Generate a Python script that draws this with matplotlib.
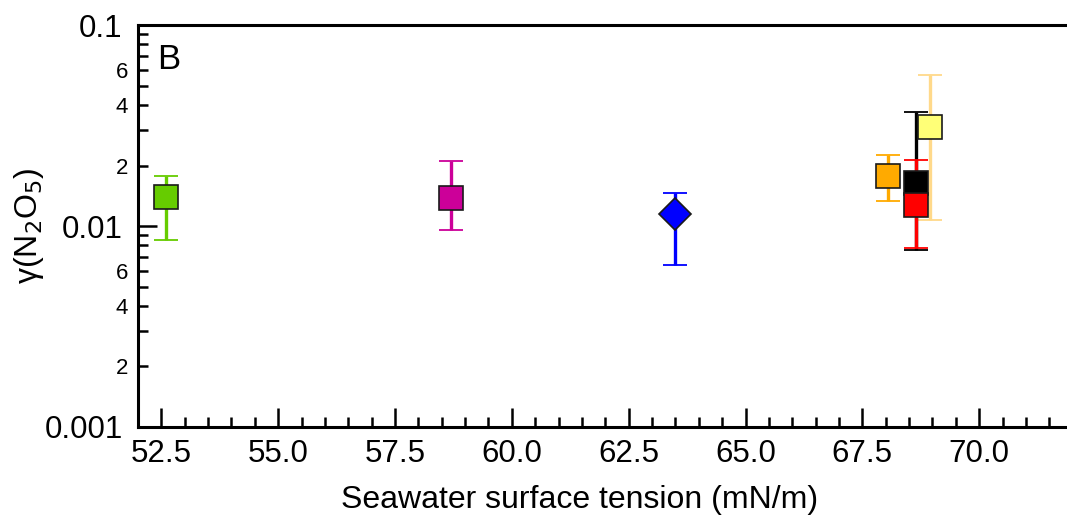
import matplotlib.pyplot as plt
from matplotlib.ticker import LogLocator, FuncFormatter, MultipleLocator

plt.rcParams['font.family'] = ['Liberation Sans', 'DejaVu Sans']

# data
tension = [52.6, 58.7, 63.5, 68.05, 68.95, 68.65, 68.65]
gamma = [0.0139, 0.0138, 0.0115, 0.0177, 0.0311, 0.0164, 0.0127]
err_hi = [0.0177, 0.0211, 0.0146, 0.0226, 0.0564, 0.0369, 0.0213]
err_lo = [0.0085, 0.0096, 0.0064, 0.0133, 0.0107, 0.0076, 0.0078]
colores = ['#66CC00', '#CC0099', '#0000FF', '#FFAA00', '#FFFF77', '#000000', '#FF0000']
colores_barra = ['#66CC00', '#CC0099', '#0000FF', '#FFAA00', '#FFD98A', '#000000', '#FF0000']
marcadores = ['s', 's', 'D', 's', 's', 's', 's']

fig = plt.figure(figsize=(10.67, 5.18), dpi=100)
ax = fig.add_axes([0.1293, 0.1757, 0.876, 0.776])

for i in range(len(tension)):
    abajo = gamma[i] - err_lo[i]
    arriba = err_hi[i] - gamma[i]
    ax.errorbar(tension[i], gamma[i], yerr=[[abajo], [arriba]], fmt='none',
                ecolor=colores_barra[i], elinewidth=2.4, capsize=8.5, capthick=1.3,
                zorder=2 + i * 0.1)
    ms = 17 if marcadores[i] == 's' else 16
    ax.plot(tension[i], gamma[i], marker=marcadores[i], markersize=ms,
            markerfacecolor=colores[i], markeredgecolor='#1a1a1a', markeredgewidth=1.2,
            linestyle='none', zorder=3 + i * 0.1)

ax.set_yscale('log')
ax.set_ylim(0.001, 0.1)
ax.set_xlim(52.0, 72.0)

ax.xaxis.set_major_locator(MultipleLocator(2.5))
ax.xaxis.set_minor_locator(MultipleLocator(0.5))
ax.xaxis.set_major_formatter(FuncFormatter(lambda v, p: f'{v:.1f}'))

ax.yaxis.set_major_locator(LogLocator(base=10, numticks=5))
ax.yaxis.set_minor_locator(LogLocator(base=10, subs=range(2, 10), numticks=20))
ax.yaxis.set_major_formatter(FuncFormatter(lambda v, p: f'{v:g}'))

def etiqueta_menor(v, p):
    d = round(v / 10 ** int(f'{v:e}'.split('e')[1]))
    return str(d) if d in (2, 4, 6) else ''

ax.yaxis.set_minor_formatter(FuncFormatter(etiqueta_menor))

for lado in ['left', 'bottom', 'top', 'right']:
    ax.spines[lado].set_linewidth(2.2)

ax.tick_params(axis='both', which='major', direction='in', length=14, width=1.8,
               labelsize=22.5, top=False, right=False)
ax.tick_params(axis='both', which='minor', direction='in', length=7, width=1.8,
               top=False, right=False)
ax.tick_params(axis='y', which='minor', labelsize=16, pad=7)
ax.tick_params(axis='y', which='major', pad=11)
ax.tick_params(axis='x', which='major', pad=9)

ax.text(0.02, 0.955, 'B', transform=ax.transAxes, fontsize=25, va='top', ha='left')

ax.set_xlabel('Seawater surface tension (mN/m)', fontsize=23, labelpad=8)
ax.xaxis.set_label_coords(0.472, -0.145, transform=ax.transAxes)
ax.xaxis.label.set_va('top')
ax.set_ylabel('γ(N$_2$O$_5$)', fontsize=23, labelpad=-1)

plt.savefig('out.png', dpi=100)
